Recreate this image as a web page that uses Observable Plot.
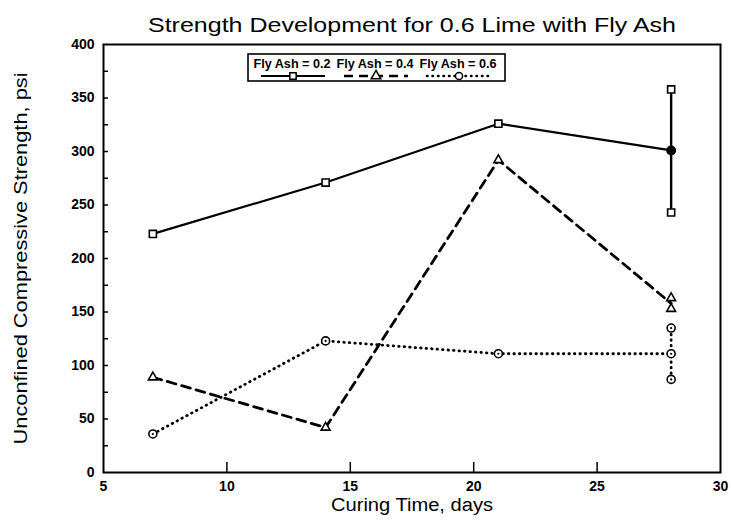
<!DOCTYPE html>
<html>
<head>
<meta charset="utf-8">
<script src="https://cdn.jsdelivr.net/npm/d3@7"></script>
<script src="https://cdn.jsdelivr.net/npm/@observablehq/plot@0.6"></script>
<style>
  html, body { margin: 0; padding: 0; background: #fff; }
  #chart { width: 731px; height: 526px; position: relative; }
  svg { font-family: "Liberation Sans", Arial, Helvetica, sans-serif; }
</style>
</head>
<body>
<div id="chart"></div>
<script>
// ---- data ----
const curingDays = [7, 14, 21, 28];
const flyAsh02 = [223, 271, 326, 301];
const flyAsh04 = [89, 42, 292, 158];
const flyAsh06 = [36, 123, 111, 111];
// individual replicate values at 28 days
const flyAsh02At28 = [358, 243];
const flyAsh04At28 = [163, 153];
const flyAsh06At28 = [135, 87];
const seriesLabels = ["Fly Ash = 0.2", "Fly Ash = 0.4", "Fly Ash = 0.6"];
const xTickValues = [5, 10, 15, 20, 25, 30];
const xInnerTicks = [10, 15, 20, 25];
const yTickValues = [0, 50, 100, 150, 200, 250, 300, 350, 400];
const yInnerTicks = [25, 50, 75, 100, 125, 150, 175, 200, 225, 250, 275, 300, 325, 350, 375];
const titleText = "Strength Development for 0.6 Lime with Fly Ash";
const xLabel = "Curing Time, days";
const yLabel = "Unconfined Compressive Strength, psi";

const toPts = (ys) => curingDays.map((d, i) => ({x: d, y: ys[i]}));
const s02 = toPts(flyAsh02), s04 = toPts(flyAsh04), s06 = toPts(flyAsh06);
const r02 = flyAsh02At28.map(v => ({x: 28, y: v}));
const r04 = flyAsh04At28.map(v => ({x: 28, y: v}));
const r06 = flyAsh06At28.map(v => ({x: 28, y: v}));

const dashed = "9,6";
const dotted = "0.5,5";

const chart = Plot.plot({
  width: 731, height: 526,
  marginLeft: 103, marginRight: 11, marginTop: 44, marginBottom: 54,
  x: {domain: [5, 30]},
  y: {domain: [0, 400]},
  marks: [
    Plot.axisX({ticks: xTickValues, tickSize: 0, tickPadding: 9, label: null, fontSize: 14, fontWeight: "bold"}),
    Plot.axisX({ticks: xInnerTicks, tickSize: 10, dy: -10, tickFormat: () => "", label: null, strokeWidth: 1.5}),
    Plot.axisY({ticks: yTickValues, tickSize: 0, tickPadding: 9, label: null, fontSize: 14, fontWeight: "bold"}),
    Plot.axisY({ticks: yInnerTicks, tickSize: 5, dx: 5, tickFormat: () => "", label: null, strokeWidth: 1.5}),
    // lines
    Plot.line(s02, {x: "x", y: "y", stroke: "black", strokeWidth: 2.2}),
    Plot.line(s04, {x: "x", y: "y", stroke: "black", strokeWidth: 2.8, strokeDasharray: dashed}),
    Plot.line(s06, {x: "x", y: "y", stroke: "black", strokeWidth: 2.8, strokeDasharray: dotted, strokeLinecap: "round"}),
    // spread at 28 days
    Plot.ruleX([28], {y1: flyAsh02At28[1], y2: flyAsh02At28[0], stroke: "black", strokeWidth: 2.4}),
    Plot.ruleX([28], {y1: flyAsh06At28[1], y2: flyAsh06At28[0], stroke: "black", strokeWidth: 2.8, strokeDasharray: dotted, strokeLinecap: "round"}),
    // markers
    Plot.dot(s02.slice(0, 3).concat(r02), {x: "x", y: "y", symbol: "square", r: 4, fill: "white", stroke: "black", strokeWidth: 1.6}),
    Plot.dot([s02[3]], {x: "x", y: "y", symbol: "circle", r: 4.2, fill: "black", stroke: "black"}),
    Plot.dot(s04.slice(0, 3).concat(r04), {x: "x", y: "y", symbol: "triangle", r: 3.3, fill: "white", stroke: "black", strokeWidth: 1.6}),
    Plot.dot(s06.concat(r06), {x: "x", y: "y", symbol: "circle", r: 4, fill: "white", stroke: "black", strokeWidth: 1.6}),
    Plot.dot(s06.concat(r06), {x: "x", y: "y", symbol: "circle", r: 1.1, fill: "black"}),
    Plot.frame({stroke: "black", strokeWidth: 2}),
    // titles
    Plot.text([titleText], {frameAnchor: "top", dy: -27, fontSize: 21, fill: "black", className: "ttl"}),
    Plot.text([xLabel], {frameAnchor: "bottom", dy: 38, fontSize: 18, fill: "black", className: "xlab"}),
    Plot.text([yLabel], {frameAnchor: "left", dx: -83, rotate: -90, textAnchor: "middle", fontSize: 19, fill: "black", className: "ylab"})
  ]
});
document.getElementById("chart").appendChild(chart);

const svg = d3.select(chart);
// stretch the wide title / axis labels to match the original lettering widths
svg.selectAll(".ttl text").attr("textLength", 528).attr("lengthAdjust", "spacingAndGlyphs");
svg.selectAll(".xlab text").attr("textLength", 162).attr("lengthAdjust", "spacingAndGlyphs");
svg.selectAll(".ylab text").attr("textLength", 372).attr("lengthAdjust", "spacingAndGlyphs");

// legend box (inside frame, top)
const lg = svg.append("g").attr("transform", "translate(248,54)");
lg.append("rect").attr("width", 257).attr("height", 27).attr("fill", "white").attr("stroke", "black").attr("stroke-width", 1.6);
const entryW = 83;
const styles = [
  {dash: null, sym: "square", w: 2},
  {dash: dashed, sym: "triangle", w: 2.6},
  {dash: dotted, sym: "circle", w: 2.6}
];
seriesLabels.forEach((lab, i) => {
  const g = lg.append("g").attr("transform", `translate(${5 + i * entryW},0)`);
  g.append("text").attr("x", 39).attr("y", 14).attr("text-anchor", "middle")
    .attr("font-size", 13).attr("font-weight", "bold").attr("textLength", 77).attr("lengthAdjust", "spacingAndGlyphs").text(lab);
  g.append("line").attr("x1", 8).attr("x2", 72).attr("y1", 22).attr("y2", 22)
    .attr("stroke", "black").attr("stroke-width", styles[i].w)
    .attr("stroke-dasharray", styles[i].dash).attr("stroke-linecap", styles[i].dash === dotted ? "round" : null);
  const symb = styles[i].sym === "square" ? d3.symbolSquare : styles[i].sym === "triangle" ? d3.symbolTriangle : d3.symbolCircle;
  g.append("path").attr("transform", "translate(40,22)").attr("d", d3.symbol(symb, 40)())
    .attr("fill", "white").attr("stroke", "black").attr("stroke-width", 1.5);
});
</script>
</body>
</html>
